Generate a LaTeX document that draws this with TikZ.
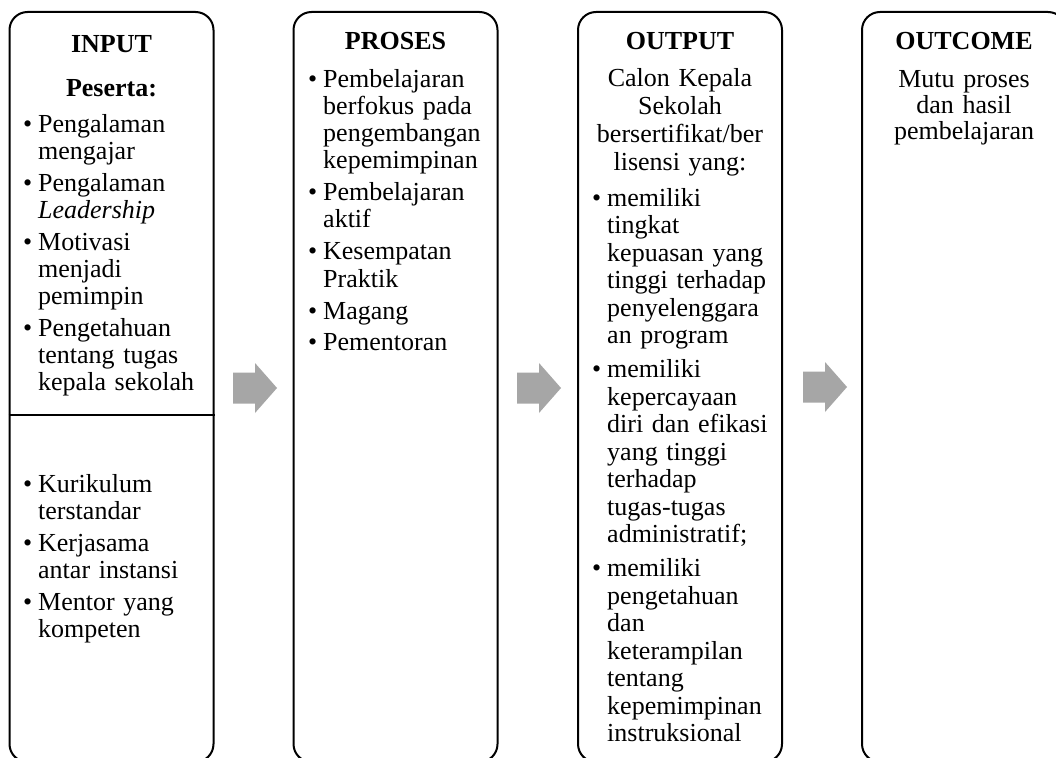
\documentclass[tikz,border=0pt]{standalone}
\usepackage{fontspec}
\setmainfont{Liberation Serif}
\usepackage{xcolor}
\usepackage{tikz}
\usetikzlibrary{positioning}
\definecolor{arrowgray}{RGB}{166,166,166}
\newcommand{\itm}[1]{\noindent\llap{\textbullet\hspace{6pt}}#1\par}
\tikzset{
    colbox/.style = {draw=black, line width=2pt, rounded corners=18pt, minimum width=204pt, minimum height=750pt, inner sep=0pt},
    colhead/.style = {font=\fontsize{26}{27}\selectfont\bfseries, text width=200pt, align=center, anchor=base, inner sep=0pt},
    colmid/.style = {font=\fontsize{26}{27}\selectfont, text width=200pt, align=center, anchor=base, inner sep=0pt},
    coltext/.style = {font=\fontsize{26}{27}\selectfont, text width=200pt, align=left, anchor=base west, inner sep=0pt, execute at begin node=\setlength{\parskip}{5pt}},
    blockarrow/.pic = {\fill[arrowgray] (-22,-15.5) -- (0,-15.5) -- (0,-25) -- (22,0) -- (0,25) -- (0,15.5) -- (-22,15.5) -- cycle;}
}
\begin{document}
\begin{tikzpicture}[x=1pt, y=-1pt]
\useasboundingbox (0,0) rectangle (1056,757);
\fill[white] (0,0) rectangle (1056,757);
\clip (0,0) rectangle (1056,757);
%
\node[colbox] at (111.5,387) (inbox) {};
\node[colbox] at (395.5,387) (prbox) {};
\node[colbox] at (680,387) (outbox) {};
\node[colbox] at (964,387) (ocbox) {};
\coordinate (divy) at (0,415);
\draw[line width=2pt] (inbox.west |- divy) -- (inbox.east |- divy);
%
\pic at (255,388) {blockarrow};
\pic at (539,388) {blockarrow};
\pic at (825,387) {blockarrow};
%
\node[colhead] at (111.5,53) (intitle) {INPUT};
\node[colhead] at (111.5,97) (inpeserta) {Peserta:};
\node[coltext] at (38,132) (inlist) {%
\itm{Pengalaman\\mengajar}
\itm{Pengalaman\\\textit{Leadership}}
\itm{Motivasi\\menjadi\\pemimpin}
\itm{Pengetahuan\\tentang tugas\\kepala sekolah}};
\node[coltext] at (38,492) (inlist2) {%
\itm{Kurikulum\\terstandar}
\itm{Kerjasama\\antar instansi}
\itm{Mentor yang\\kompeten}};
%
\node[colhead] at (395.5,50) (prtitle) {PROSES};
\node[coltext] at (323,88) (prlist) {%
\itm{Pembelajaran\\berfokus pada\\pengembangan\\kepemimpinan}
\itm{Pembelajaran\\aktif}
\itm{Kesempatan\\Praktik}
\itm{Magang}
\itm{Pementoran}};
%
\node[colhead] at (680,50) (outtitle) {OUTPUT};
\node[colmid, font=\fontsize{26}{27.7}\selectfont] at (680,87) (outlead) {Calon Kepala\\Sekolah\\bersertifikat/ber\\lisensi yang:};
\node[coltext, font=\fontsize{26}{27.5}\selectfont, execute at begin node=\setlength{\parskip}{6.5pt}] at (607,206) (outlist) {%
\itm{memiliki\\tingkat\\kepuasan yang\\tinggi terhadap\\penyelenggara\\an program}
\itm{memiliki\\kepercayaan\\diri dan efikasi\\yang tinggi\\terhadap\\tugas-tugas\\administratif;}
\itm{memiliki\\pengetahuan\\dan\\keterampilan\\tentang\\kepemimpinan\\instruksional}};
%
\node[colhead] at (964,50) (octitle) {OUTCOME};
\node[colmid, font=\fontsize{26}{26}\selectfont] at (964,88) (octext) {Mutu proses\\dan hasil\\pembelajaran};
\end{tikzpicture}
\end{document}
